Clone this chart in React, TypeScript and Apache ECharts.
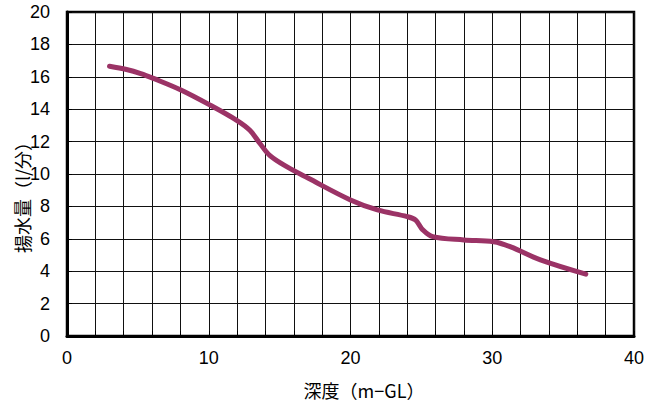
import React, { useEffect, useRef } from "react";
import * as echarts from "echarts";

const depth = [3.0, 4.2, 5.2, 6.1, 8.0, 10.1, 12.0, 12.9, 13.6, 14.3, 15.5, 17.0, 20.0, 21.9, 24.0, 24.6, 25.1, 25.8, 28.0, 30.1, 31.3, 33.4, 36.6];
const flow = [16.65, 16.45, 16.2, 15.9, 15.2, 14.25, 13.3, 12.7, 11.9, 11.15, 10.45, 9.75, 8.4, 7.78, 7.37, 7.15, 6.55, 6.13, 5.93, 5.82, 5.5, 4.7, 3.82];
const xTitle = "深度（m−GL）";
const yTitle = "揚水量（l/分）";

const FONT = '"Liberation Sans", Arial, "Noto Sans CJK JP", sans-serif';
const CJK = '"Noto Sans CJK JP", sans-serif';

export default function App() {
  const ref = useRef<HTMLDivElement>(null);
  useEffect(() => {
    const chart = echarts.init(ref.current!, null, { renderer: "svg" });
    chart.setOption({
      animation: false,
      backgroundColor: "#fff",
      grid: {
        left: 67,
        top: 12,
        width: 567,
        height: 324,
        show: true,
        borderColor: "#000",
        borderWidth: 2.5,
        backgroundColor: "transparent",
      },
      xAxis: {
        type: "value",
        min: 0,
        max: 40,
        interval: 2,
        axisLine: { show: true, onZero: false, lineStyle: { color: "#000", width: 3 } },
        axisTick: { show: true, inside: true, length: 5, lineStyle: { color: "#000" } },
        axisLabel: {
          color: "#000",
          fontSize: 18,
          fontFamily: FONT,
          margin: 13,
          formatter: (v: number) => (v % 10 === 0 ? String(v) : ""),
        },
        splitLine: { show: true, lineStyle: { color: "#111", width: 1 } },
      },
      yAxis: {
        type: "value",
        min: 0,
        max: 20,
        interval: 2,
        axisLine: { show: true, lineStyle: { color: "#000", width: 3 } },
        axisTick: { show: true, inside: true, length: 5, lineStyle: { color: "#000" } },
        axisLabel: { color: "#000", fontSize: 18, fontFamily: FONT, margin: 17 },
        splitLine: { show: true, lineStyle: { color: "#111", width: 1 } },
      },
      graphic: [
        {
          type: "text",
          x: 364,
          y: 390,
          style: {
            text: xTitle,
            font: `18px ${CJK}`,
            fill: "#000",
            align: "center",
            verticalAlign: "middle",
          },
        },
        {
          type: "text",
          x: 22,
          y: 193,
          rotation: Math.PI / 2,
          style: {
            text: yTitle,
            font: `18px ${CJK}`,
            fill: "#000",
            align: "center",
            verticalAlign: "middle",
          },
        },
      ],
      series: [
        {
          type: "line",
          data: depth.map((d, i) => [d, flow[i]]),
          smooth: 0.35,
          showSymbol: false,
          lineStyle: { color: "#9b3366", width: 5, cap: "round" },
          z: 5,
        },
      ],
    });
    return () => chart.dispose();
  }, []);
  return <div ref={ref} style={{ position: "fixed", left: 0, top: 0, width: 653, height: 402 }} />;
}
